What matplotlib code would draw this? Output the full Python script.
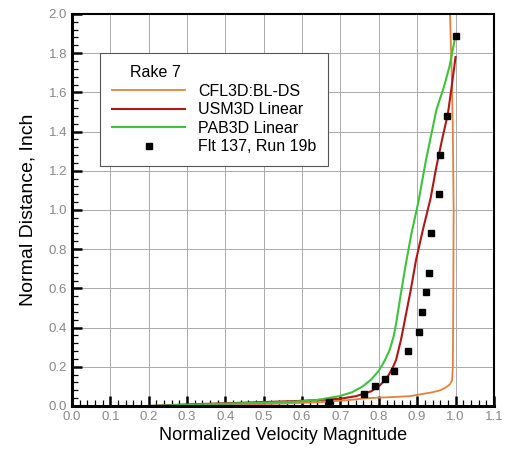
import numpy as np
import matplotlib
matplotlib.use('Agg')
import matplotlib.pyplot as plt
from matplotlib.ticker import MultipleLocator, FormatStrFormatter

plt.rcParams['font.family'] = ['Liberation Sans', 'DejaVu Sans']

# CFL3D:BL-DS profile
cfl_x = [0.20, 0.40, 0.55, 0.65, 0.72, 0.77, 0.83, 0.88, 0.91, 0.94, 0.96, 0.975, 0.985, 0.991, 0.993, 0.994, 0.995, 0.993, 0.990, 0.987, 0.985]
cfl_y = [0.0, 0.005, 0.012, 0.02, 0.03, 0.04, 0.045, 0.05, 0.06, 0.07, 0.08, 0.095, 0.11, 0.13, 0.20, 0.50, 1.00, 1.40, 1.70, 1.90, 2.05]

# USM3D Linear profile
usm_x = [0.20, 0.30, 0.40, 0.50, 0.58, 0.64, 0.70, 0.74, 0.78, 0.80, 0.82, 0.835, 0.845, 0.858, 0.871, 0.884, 0.897, 0.915, 0.935, 0.95, 0.965, 0.98, 0.99, 1.0]
usm_y = [0.0, 0.008, 0.014, 0.02, 0.025, 0.03, 0.037, 0.05, 0.075, 0.10, 0.14, 0.19, 0.235, 0.34, 0.47, 0.60, 0.745, 0.90, 1.06, 1.22, 1.36, 1.49, 1.63, 1.78]

# PAB3D Linear profile
pab_x = [0.20, 0.30, 0.40, 0.50, 0.58, 0.636, 0.697, 0.73, 0.758, 0.78, 0.80, 0.815, 0.828, 0.838, 0.845, 0.858, 0.871, 0.885, 0.903, 0.923, 0.95, 0.97, 0.984, 1.0]
pab_y = [0.0, 0.006, 0.012, 0.017, 0.022, 0.03, 0.05, 0.07, 0.10, 0.135, 0.18, 0.23, 0.285, 0.35, 0.42, 0.58, 0.73, 0.88, 1.04, 1.255, 1.51, 1.63, 1.73, 1.89]

# Flt 137, Run 19b
flt_x = [0.671, 0.762, 0.791, 0.815, 0.839, 0.876, 0.904, 0.913, 0.924, 0.931, 0.937, 0.957, 0.960, 0.978, 1.0]
flt_y = [0.02, 0.06, 0.10, 0.14, 0.18, 0.28, 0.38, 0.48, 0.58, 0.68, 0.88, 1.08, 1.28, 1.48, 1.89]

fig = plt.figure(figsize=(5.05, 4.5), dpi=100)
ax = fig.add_axes([0.1426, 0.0978, 0.8354, 0.8712])

ax.plot(cfl_x, cfl_y, color='#e8803a', linewidth=1.3, label='CFL3D:BL-DS')
ax.plot(usm_x, usm_y, color='#b01818', linewidth=1.5, label='USM3D Linear')
ax.plot(pab_x, pab_y, color='#3cc43c', linewidth=1.5, label='PAB3D Linear')
ax.plot(flt_x, flt_y, linestyle='none', marker='s', markersize=5, color='black', label='Flt 137, Run 19b', zorder=5)

ax.set_xlim(0, 1.1)
ax.set_ylim(0, 2.0)
ax.xaxis.set_major_locator(MultipleLocator(0.1))
ax.xaxis.set_minor_locator(MultipleLocator(0.02))
ax.yaxis.set_major_locator(MultipleLocator(0.2))
ax.yaxis.set_minor_locator(MultipleLocator(0.04))
ax.xaxis.set_major_formatter(FormatStrFormatter('%.1f'))
ax.yaxis.set_major_formatter(FormatStrFormatter('%.1f'))
ax.grid(True, which='major', color='#aaaaaa', linewidth=0.7)
ax.set_axisbelow(True)

ax.tick_params(which='both', direction='in', top=False, right=False, labelcolor='#888888', labelsize=9.5)
ax.tick_params(which='major', length=7, width=1.8)
ax.tick_params(which='minor', length=4, width=0.9)

for side in ['left', 'bottom']:
    ax.spines[side].set_linewidth(2.2)
for side in ['top', 'right']:
    ax.spines[side].set_linewidth(1.5)

ax.set_xlabel('Normalized Velocity Magnitude', fontsize=13, labelpad=3)
ax.set_ylabel('Normal Distance, Inch', fontsize=14, labelpad=9)

leg = ax.legend(loc='upper left', bbox_to_anchor=(0.066, 0.9), title='    Rake 7', fontsize=11.5,
                title_fontsize=11.5, frameon=True, fancybox=False, edgecolor='#555555',
                framealpha=1, handlelength=4.6, handletextpad=0.8, borderpad=0.75,
                labelspacing=0.22, borderaxespad=0)
leg.get_frame().set_linewidth(0.8)
leg._legend_box.align = 'left'

fig.savefig('out.png', dpi=100)
